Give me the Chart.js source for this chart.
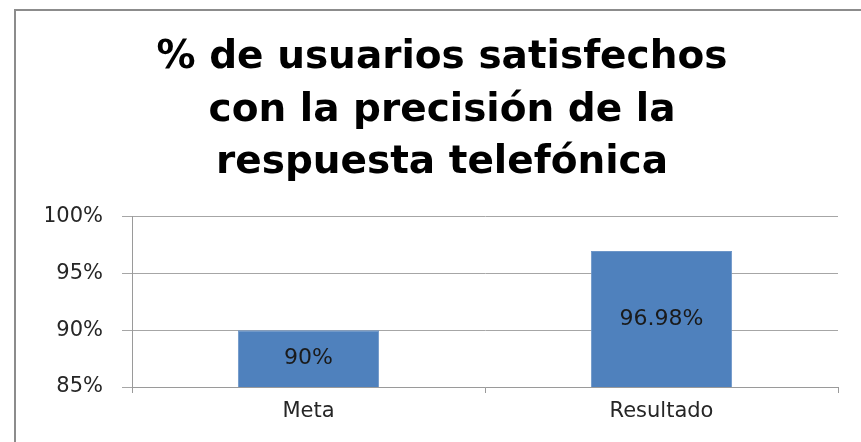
<!DOCTYPE html>
<html>
<head>
<meta charset="utf-8">
<script src="https://cdn.jsdelivr.net/npm/chart.js@4"></script>
<style>
  html, body { margin: 0; padding: 0; background: #fff; }
  #wrap { width: 861px; height: 442px; position: relative; }
</style>
</head>
<body>
<div id="wrap"><canvas id="c1"></canvas></div>
<script>
var titleLines = ['% de usuarios satisfechos', 'con la precisión de la', 'respuesta telefónica'];
var categories = ['Meta', 'Resultado'];
var values = [90, 96.98];
var valueLabels = ['90%', '96.98%'];
var yMin = 85, yMax = 100, yStep = 5;

var fontFam = '"DejaVu Sans", sans-serif';

// marco gris alrededor del grafico
var frame = {
  id: 'frame',
  beforeDraw: function(chart) {
    var c = chart.ctx;
    c.save();
    c.strokeStyle = '#8c8c8c';
    c.lineWidth = 2;
    c.strokeRect(15, 10, 900, 500);
    c.restore();
  }
};

// etiquetas de valor dentro de las barras
var barLabels = {
  id: 'barLabels',
  afterDraw: function(chart) {
    var c = chart.ctx;
    var xs = chart.scales.x, ys = chart.scales.y;
    c.save();
    c.font = '22px "DejaVu Sans"';
    c.fillStyle = '#1a1a1a';
    c.textAlign = 'center';
    c.textBaseline = 'middle';
    for (var i = 0; i < values.length; i++) {
      var px = xs.getPixelForValue(i);
      var top = ys.getPixelForValue(values[i]);
      var bot = ys.getPixelForValue(yMin);
      c.fillText(valueLabels[i], px, (top + bot) / 2);
    }
    c.restore();
  }
};

var config = {
  type: 'bar',
  data: {
    labels: categories,
    datasets: [{
      data: values,
      backgroundColor: '#4f81bd',
      borderColor: '#6d96c8',
      borderWidth: 1,
      categoryPercentage: 1,
      barPercentage: 0.4
    }]
  },
  options: {
    responsive: true,
    maintainAspectRatio: false,
    animation: false,
    layout: { padding: { top: 0, right: 23, bottom: 0, left: 46 } },
    plugins: {
      legend: { display: false },
      tooltip: { enabled: false },
      title: {
        display: true,
        text: titleLines,
        color: '#000',
        font: { family: fontFam, size: 39, weight: 'bold', lineHeight: 1.34 },
        padding: { top: 32, bottom: 28 }
      }
    },
    scales: {
      x: {
        grid: { offset: true, drawOnChartArea: false, drawTicks: true, tickLength: 6, color: '#9a9a9a' },
        border: { color: '#9a9a9a', width: 1 },
        ticks: { color: '#262626', padding: 6, font: { family: fontFam, size: 21 } },
        afterFit: function(s) { s.height = 55; }
      },
      y: {
        min: yMin,
        max: yMax,
        grid: { color: '#a6a6a6', tickLength: 10 },
        border: { color: '#9a9a9a', width: 1 },
        ticks: {
          stepSize: yStep,
          color: '#262626',
          padding: 19,
          font: { family: fontFam, size: 21 },
          callback: function(v) { return v + '%'; }
        },
        afterFit: function(s) { s.width = 86; }
      }
    }
  },
  plugins: [frame, barLabels]
};

var chart1 = new Chart(document.getElementById('c1'), config);
</script>
</body>
</html>
